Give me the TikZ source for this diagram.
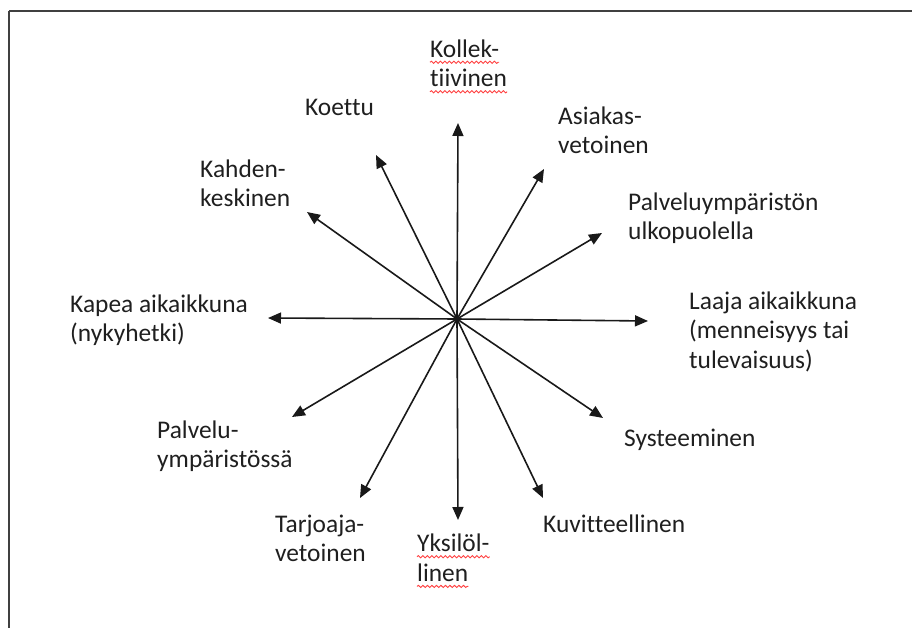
\documentclass[tikz,border=0pt]{standalone}
\usepackage{fontspec}
\setmainfont{Carlito}[RawFeature=-liga]
\usetikzlibrary{arrows.meta,decorations.pathmorphing}
\begin{document}
\begin{tikzpicture}[x=1bp,y=-1bp,
  lbl/.style={inner sep=0pt,anchor=base west,align=left,
    font=\fontsize{25.5}{29.5}\selectfont,text=black!88},
  spoke/.style={line width=1.6bp,draw=black!90,
    -{Triangle[length=13bp,width=11bp]}},
  spell/.style={draw=red!75,line width=0.9bp,
    decorate,decoration={snake,segment length=4.5bp,amplitude=1.1bp}},
  frame/.style={draw=black!75,line width=2bp}]
\useasboundingbox (0,0) rectangle (912,628);
% outer frame, running past the right and lower edges
\draw[frame] (9,11) -- (930,11) (9,11) -- (9,650);

% hub and arrow tips
\coordinate (c) at (457,319);
\coordinate (tN)   at (458,123);
\coordinate (tNNE) at (544,169);
\coordinate (tENE) at (602,233);
\coordinate (tE)   at (648,321);
\coordinate (tESE) at (603,418);
\coordinate (tSSE) at (543,498);
\coordinate (tS)   at (458,520);
\coordinate (tSSW) at (360,498);
\coordinate (tWSW) at (292,417);
\coordinate (tW)   at (268,318);
\coordinate (tWNW) at (307,212);
\coordinate (tNNW) at (376,155);

\foreach \t in {tN,tNNE,tENE,tE,tESE,tSSE,tS,tSSW,tWSW,tW,tWNW,tNNW}
  \draw[spoke] (c) -- (\t);

% labels (multi-line nodes are placed by the baseline of their last line)
\node[lbl] (koll1) at (430,57.3) {Kollek-};
\node[lbl] (koll2) at (430,86.8) {tiivinen};
\node[lbl] (koettu) at (305,116) {Koettu};
\node[lbl] (asiakas) at (558,153.5) {Asiakas-\\vetoinen};
\node[lbl] (ulko) at (628,239.5) {Palveluympäristön\\ulkopuolella};
\node[lbl] (kahden) at (200,206.5) {Kahden-\\keskinen};
\node[lbl] (kapea) at (70,341.5) {Kapea aikaikkuna\\(nykyhetki)};
\node[lbl] (laaja) at (689,368.3) {Laaja aikaikkuna\\(menneisyys tai\\tulevaisuus)};
\node[lbl] (palv) at (157,467.5) {Palvelu-\\ympäristössä};
\node[lbl] (syst) at (624,446) {Systeeminen};
\node[lbl] (tarj) at (275,561.5) {Tarjoaja-\\vetoinen};
\node[lbl] (kuvit) at (543,532) {Kuvitteellinen};
\node[lbl] (yks1) at (417,551.7) {Yksilöl-};
\node[lbl] (yks2) at (417,581.4) {linen};

% spell-check marks under the hyphenated words
\foreach \n in {koll1,koll2,yks1,yks2}
  \draw[spell] ([yshift=-5bp]\n.base west) -- ([yshift=-5bp]\n.base east);
\end{tikzpicture}
\end{document}
